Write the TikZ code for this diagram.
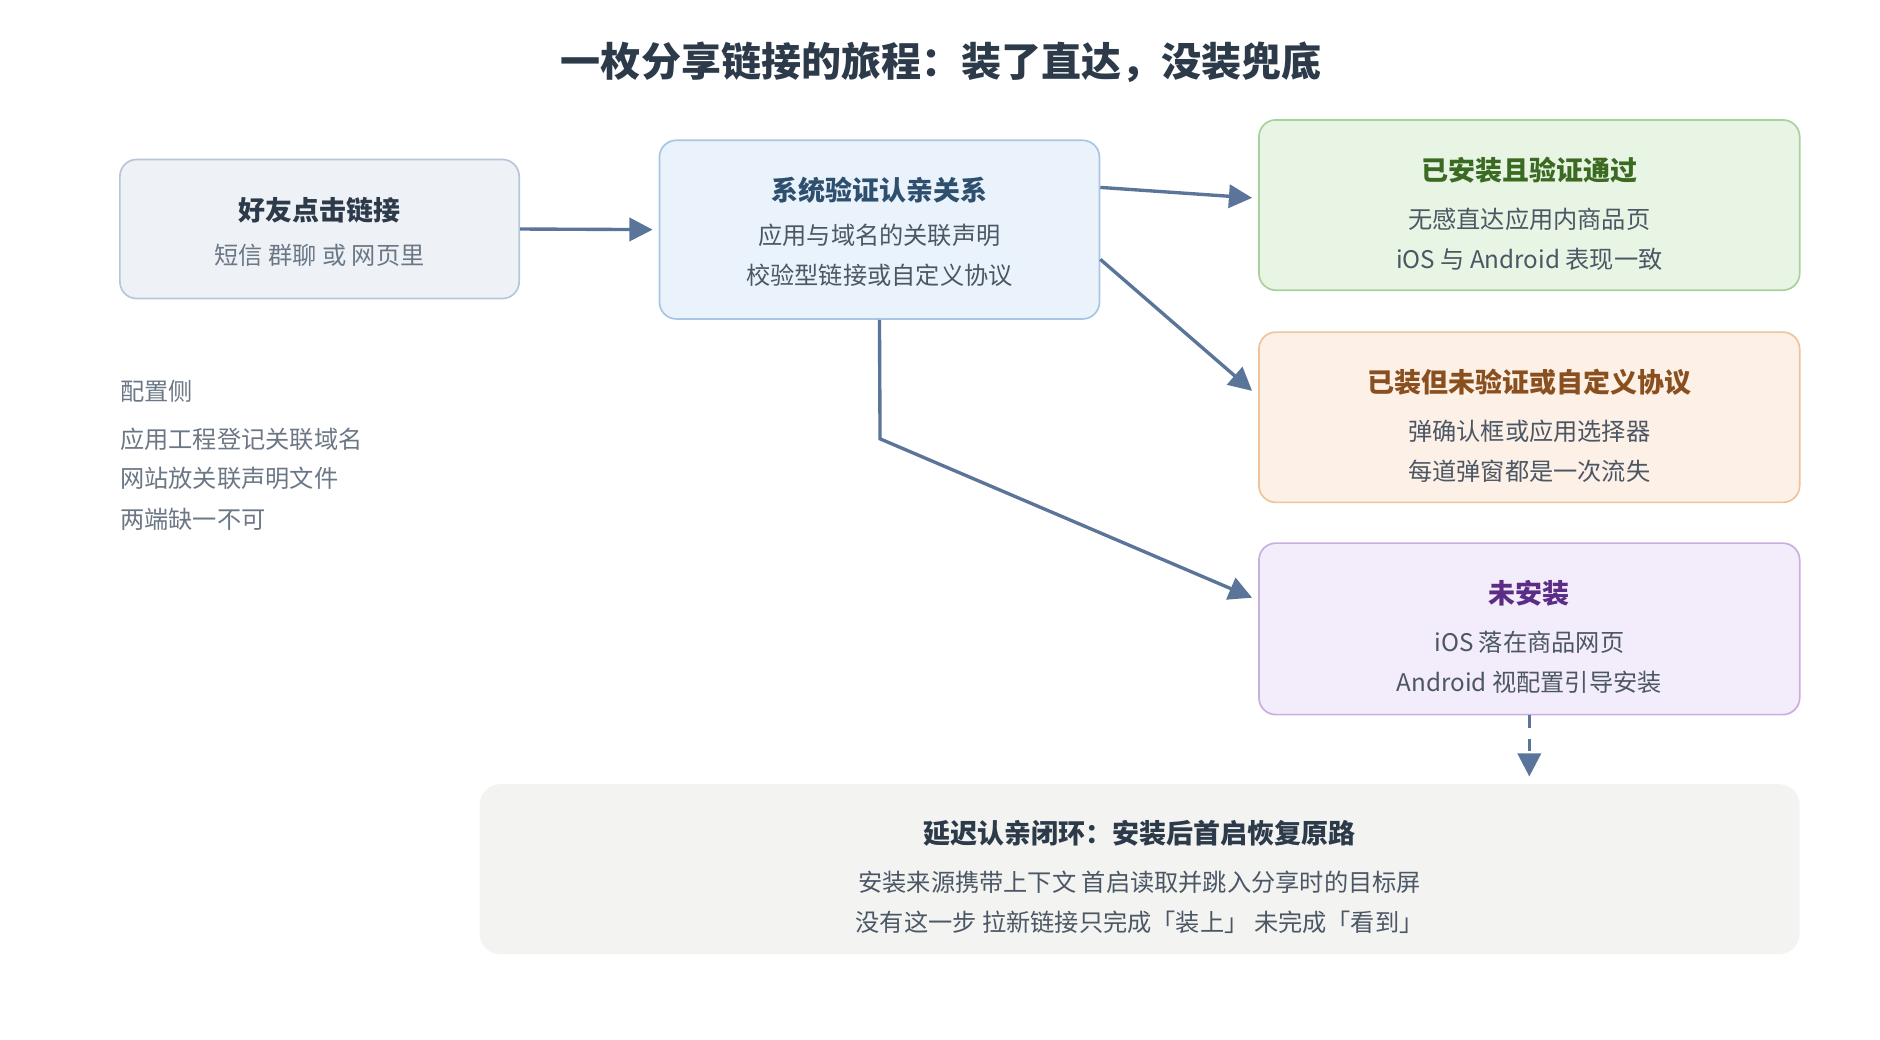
\documentclass[tikz,border=0pt]{standalone}
\usepackage{fontspec}
\setmainfont{Noto Sans CJK SC}
\usetikzlibrary{arrows.meta, calc, positioning}
\definecolor{ink}{HTML}{2D3A4A}
\definecolor{grey}{HTML}{6B7785}
\definecolor{link}{HTML}{5A7599}
\tikzset{
  card/.style={draw, rounded corners=8pt, line width=0.8pt},
  head/.style={font=\fontsize{12.8}{15}\selectfont\bfseries},
  body/.style={font=\fontsize{11.5}{14}\selectfont, text=grey},
  flow/.style={-{Triangle[length=11pt, width=11pt]}, line width=1.6pt, link},
}
\begin{document}
\begin{tikzpicture}[x=0.02cm, y=-0.02cm]
  \useasboundingbox (0,0) rectangle (1568,867);
  \node[font=\fontsize{19}{22}\selectfont\bfseries, text=ink] (title) at (785,52) {一枚分享链接的旅程：装了直达，没装兜底};

  % cards
  \node[card, draw={rgb,255:red,184;green,198;blue,216}, fill={rgb,255:red,238;green,242;blue,247}, minimum width=333*0.02cm, minimum height=116*0.02cm] (tap) at (266.5,191) {};
  \node[card, draw={rgb,255:red,169;green,196;blue,228}, fill={rgb,255:red,234;green,243;blue,252}, minimum width=367*0.02cm, minimum height=149*0.02cm] (verify) at (733.5,191.5) {};
  \node[card, draw={rgb,255:red,167;green,210;blue,155}, fill={rgb,255:red,232;green,244;blue,228}, minimum width=451*0.02cm, minimum height=142*0.02cm] (direct) at (1275.5,171) {};
  \node[card, draw={rgb,255:red,240;green,196;blue,155}, fill={rgb,255:red,253;green,240;blue,230}, minimum width=451*0.02cm, minimum height=142*0.02cm] (prompt) at (1275.5,348) {};
  \node[card, draw={rgb,255:red,201;green,174;blue,224}, fill={rgb,255:red,243;green,236;blue,250}, minimum width=451*0.02cm, minimum height=143*0.02cm] (none) at (1275.5,524.5) {};
  \node[rounded corners=10pt, fill={rgb,255:red,243;green,244;blue,241}, minimum width=1101*0.02cm, minimum height=142*0.02cm] (defer) at (950.5,725) {};

  % texts
  \node[head, text=ink] at (266.5,175) {好友点击链接};
  \node[body] at (266.5,213) {短信 群聊 或 网页里};
  \node[head, text={rgb,255:red,47;green,79;blue,111}] at (733.5,159) {系统验证认亲关系};
  \node[body, text=ink!85] at (733.5,196) {应用与域名的关联声明};
  \node[body, text=ink!85] at (733.5,230) {校验型链接或自定义协议};
  \node[head, text={rgb,255:red,59;green,107;blue,34}] at (1275.5,142) {已安装且验证通过};
  \node[body, text=ink!85] at (1275.5,183) {无感直达应用内商品页};
  \node[body, text=ink!85] at (1275.5,216) {iOS 与 Android 表现一致};
  \node[head, text={rgb,255:red,138;green,79;blue,31}] at (1275.5,319) {已装但未验证或自定义协议};
  \node[body, text=ink!85] at (1275.5,360) {弹确认框或应用选择器};
  \node[body, text=ink!85] at (1275.5,393) {每道弹窗都是一次流失};
  \node[head, text={rgb,255:red,91;green,45;blue,134}] at (1275.5,495) {未安装};
  \node[body, text=ink!85] at (1275.5,536) {iOS 落在商品网页};
  \node[body, text=ink!85] at (1275.5,569) {Android 视配置引导安装};
  \node[head, text=ink] at (950.5,695) {延迟认亲闭环：安装后首启恢复原路};
  \node[body, text=ink!85] at (950.5,736) {安装来源携带上下文 首启读取并跳入分享时的目标屏};
  \node[body, text=ink!85] at (950.5,769) {没有这一步 拉新链接只完成「装上」 未完成「看到」};

  % config side
  \node[body, anchor=west, inner sep=0pt] (cfg) at (100,326) {配置侧};
  \node[body, anchor=west, inner sep=0pt] at (100,366) {应用工程登记关联域名};
  \node[body, anchor=west, inner sep=0pt] at (100,399) {网站放关联声明文件};
  \node[body, anchor=west, inner sep=0pt] at (100,433) {两端缺一不可};

  % connectors
  \coordinate (bend) at (734,366);
  \draw[flow] (tap.east) -- ($(verify.west)+(-5,0)$);
  \draw[flow] ($(verify.north east)+(0,40)$) -- ($(direct.west)+(-5,-6)$);
  \draw[flow] ($(verify.north east)+(0,100)$) -- ($(prompt.west)+(-5,-22)$);
  \draw[flow] (verify.south) -- (bend) -- ($(none.west)+(-5,-26)$);
  \draw[flow, dash pattern=on 6pt off 5pt] (none.south) -- ($(defer.north -| none.south)+(0,-6)$);
\end{tikzpicture}
\end{document}
